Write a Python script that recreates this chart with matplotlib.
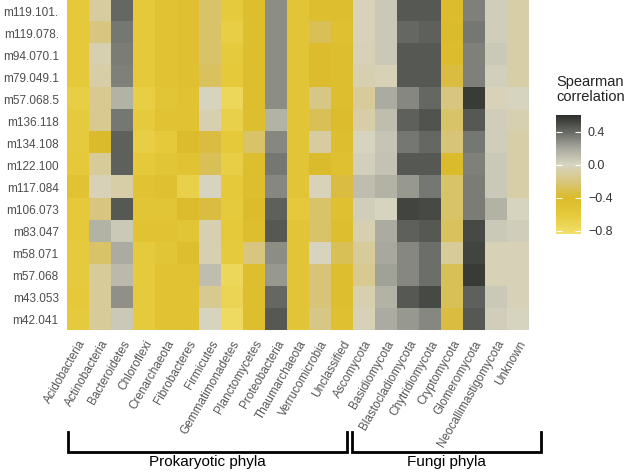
import numpy as np
import matplotlib
matplotlib.use("Agg")
import matplotlib.pyplot as plt
from matplotlib.colors import LinearSegmentedColormap

# metabolite features (rows, top to bottom)
features = ["m119.101.", "m119.078.", "m94.070.1", "m79.049.1", "m57.068.5",
            "m136.118", "m134.108", "m122.100", "m117.084", "m106.073",
            "m83.047", "m58.071", "m57.068", "m43.053", "m42.041"]

prok_phyla = ["Acidobacteria", "Actinobacteria", "Bacteroidetes", "Chloroflexi",
              "Crenarchaeota", "Fibrobacteres", "Firmicutes", "Gemmatimonadetes",
              "Planctomycetes", "Proteobacteria", "Thaumarchaeota",
              "Verrucomicrobia", "Unclassified"]
fungi_phyla = ["Ascomycota", "Basidiomycota", "Blastocladiomycota",
               "Chytridiomycota", "Cryptomycota", "Glomeromycota",
               "Neocallimastigomycota", "Unknown"]

# spearman rho, one row per feature
prok_rho = [
    [-0.60, -0.10, 0.40, -0.60, -0.50, -0.48, -0.25, -0.62, -0.45, 0.28, -0.55, -0.45, -0.45],
    [-0.60, -0.20, 0.35, -0.60, -0.50, -0.48, -0.25, -0.65, -0.45, 0.28, -0.55, -0.30, -0.48],
    [-0.60, -0.05, 0.33, -0.60, -0.50, -0.47, -0.25, -0.62, -0.45, 0.28, -0.55, -0.42, -0.45],
    [-0.60, -0.08, 0.32, -0.60, -0.50, -0.47, -0.28, -0.60, -0.45, 0.28, -0.55, -0.42, -0.45],
    [-0.65, -0.15, 0.15, -0.65, -0.55, -0.50, 0.00, -0.75, -0.45, 0.28, -0.55, -0.18, -0.45],
    [-0.62, -0.15, 0.35, -0.62, -0.50, -0.50, -0.05, -0.68, -0.45, 0.15, -0.55, -0.30, -0.42],
    [-0.62, -0.40, 0.42, -0.65, -0.60, -0.42, -0.35, -0.60, -0.25, 0.30, -0.55, -0.10, -0.45],
    [-0.60, -0.12, 0.42, -0.60, -0.55, -0.50, -0.30, -0.65, -0.45, 0.35, -0.55, -0.40, -0.48],
    [-0.50, -0.03, -0.08, -0.50, -0.48, -0.68, 0.00, -0.60, -0.45, 0.30, -0.55, -0.02, -0.35],
    [-0.60, -0.20, 0.45, -0.55, -0.55, -0.42, -0.35, -0.62, -0.42, 0.42, -0.60, -0.25, -0.48],
    [-0.60, 0.15, 0.05, -0.50, -0.50, -0.55, -0.05, -0.60, -0.45, 0.45, -0.55, -0.25, -0.45],
    [-0.62, -0.25, 0.18, -0.62, -0.55, -0.45, -0.05, -0.62, -0.20, 0.28, -0.55, 0.00, -0.30],
    [-0.62, -0.12, 0.12, -0.62, -0.50, -0.50, 0.10, -0.75, -0.45, 0.25, -0.55, -0.22, -0.45],
    [-0.60, -0.12, 0.27, -0.62, -0.50, -0.50, -0.15, -0.72, -0.45, 0.40, -0.55, -0.22, -0.45],
    [-0.62, -0.12, 0.05, -0.62, -0.50, -0.50, 0.00, -0.78, -0.45, 0.45, -0.55, -0.18, -0.47],
]
fungi_rho = [
    [-0.02, 0.05, 0.45, 0.45, -0.42, 0.32, 0.03, -0.08],
    [-0.02, 0.05, 0.40, 0.42, -0.40, 0.35, 0.03, -0.08],
    [-0.03, 0.05, 0.45, 0.45, -0.42, 0.32, 0.05, -0.07],
    [-0.05, -0.03, 0.45, 0.45, -0.35, 0.32, 0.02, -0.07],
    [-0.12, 0.18, 0.30, 0.40, -0.20, 0.55, -0.02, 0.00],
    [-0.08, 0.10, 0.42, 0.47, -0.25, 0.45, 0.03, -0.05],
    [0.00, 0.07, 0.35, 0.40, -0.22, 0.35, 0.03, -0.08],
    [0.02, 0.08, 0.45, 0.45, -0.40, 0.32, 0.05, -0.07],
    [0.10, 0.15, 0.25, 0.35, -0.25, 0.33, 0.05, -0.08],
    [0.03, 0.00, 0.52, 0.50, -0.25, 0.33, 0.15, 0.00],
    [-0.05, 0.18, 0.42, 0.45, -0.28, 0.50, 0.05, 0.03],
    [-0.12, 0.20, 0.30, 0.38, -0.12, 0.52, -0.03, -0.03],
    [-0.15, 0.22, 0.30, 0.38, -0.30, 0.55, -0.03, -0.03],
    [-0.05, 0.15, 0.45, 0.50, -0.30, 0.42, 0.05, -0.03],
    [-0.03, 0.18, 0.25, 0.30, -0.35, 0.45, 0.03, 0.00],
]

cbar_ticks = [-0.8, -0.4, 0.0, 0.4]
vmin, vmax = -0.84, 0.6

plt.rcParams["font.family"] = ["Liberation Sans", "DejaVu Sans"]

stops = [(-0.84, "#f1e06c"), (-0.6, "#e5c93a"), (-0.4, "#dbbb2b"),
         (-0.2, "#d8c680"), (0.0, "#d7d4c0"), (0.2, "#a8a89e"),
         (0.4, "#666864"), (0.6, "#2b2e29")]
cmap = LinearSegmentedColormap.from_list(
    "spearman", [((v - vmin) / (vmax - vmin), c) for v, c in stops])

rho = np.hstack([np.array(prok_rho), np.array(fungi_rho)])
phyla = prok_phyla + fungi_phyla

fig = plt.figure(figsize=(6.3, 4.73), dpi=100)
ax = fig.add_axes([67 / 630, 1 - 330 / 473, 462 / 630, 330 / 473])
im = ax.imshow(rho, cmap=cmap, vmin=vmin, vmax=vmax, aspect="auto",
               interpolation="nearest")

ax.set_xticks(range(len(phyla)))
ax.set_xticklabels(phyla, rotation=60, ha="right", rotation_mode="anchor",
                   fontsize=8.5, color="#555555")
ax.set_yticks(range(len(features)))
ax.set_yticklabels(features, fontsize=8.5, color="#4d4d4d")
ax.tick_params(length=0, pad=6)
for s in ax.spines.values():
    s.set_visible(False)

# colorbar
cax = fig.add_axes([556 / 630, 1 - 234 / 473, 25 / 630, 119 / 473])
cb = fig.colorbar(im, cax=cax, ticks=cbar_ticks)
cb.outline.set_visible(False)
cb.ax.tick_params(length=4, direction="in", color="white", width=0.8,
                  labelsize=9, labelcolor="#333333", pad=5, left=True)
cb.ax.set_yticklabels([f"{t:.1f}".replace("-", "\u2212") for t in cbar_ticks])
fig.text(556 / 630, 1 - 75 / 473, "Spearman\ncorrelation", ha="left", va="top",
         fontsize=10.5, color="#222222", linespacing=1.1)

# group brackets under the x labels
n_prok = len(prok_phyla)
n_all = len(phyla)
groups = [("Prokaryotic phyla", -0.45, n_prok - 0.77),
          ("Fungi phyla", n_prok - 0.55, n_all + 0.05)]
trans = ax.get_xaxis_transform()
y_top = -(432 - 330) / 330
y_bot = -(452 - 330) / 330
for name, x0, x1 in groups:
    ax.plot([x0, x0, x1, x1], [y_top, y_bot, y_bot, y_top], color="black",
            lw=2, transform=trans, clip_on=False, solid_joinstyle="miter")
    ax.text((x0 + x1) / 2, y_bot - 0.01, name, transform=trans, ha="center",
            va="top", fontsize=11, color="black")

ax.set_xlim(-0.5, n_all - 0.5)
ax.set_ylim(len(features) - 0.5, -0.5)

fig.savefig("out.png", dpi=100)
